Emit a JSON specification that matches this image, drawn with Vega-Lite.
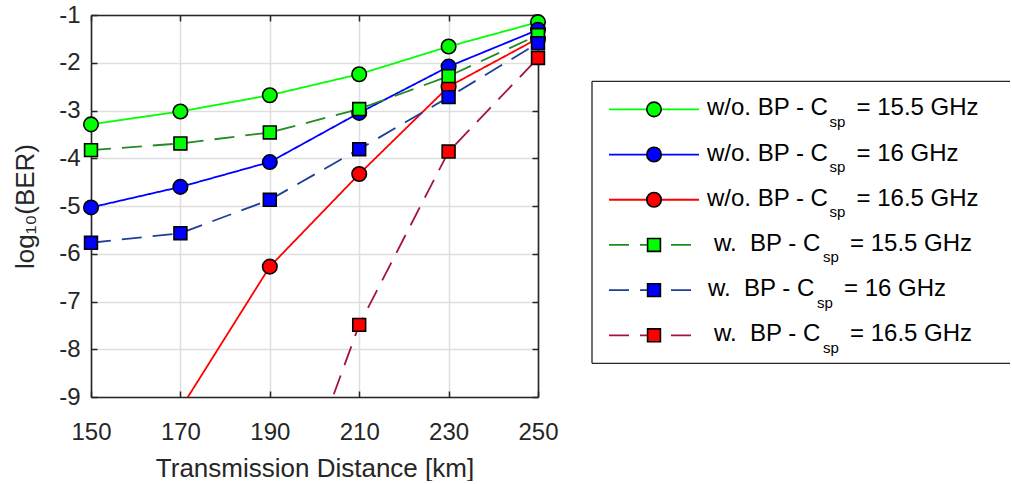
{
  "$schema": "https://vega.github.io/schema/vega-lite/v6.json",
  "background": "white",
  "padding": {"left": 12, "top": 3, "right": 0, "bottom": 0},
  "spacing": 32,
  "config": {
    "view": {"stroke": null},
    "font": "Liberation Sans",
    "axis": {
      "domainColor": "#262626",
      "domainWidth": 1.6,
      "tickColor": "#262626",
      "tickWidth": 1.5,
      "tickSize": -6,
      "labelColor": "#262626",
      "titleColor": "#262626",
      "labelFont": "Liberation Sans",
      "titleFont": "Liberation Sans",
      "labelFontSize": 24,
      "titleFontSize": 26,
      "titleFontWeight": "normal",
      "gridColor": "#dfdfdf",
      "gridWidth": 1.5,
      "labelOverlap": false
    }
  },
  "datasets": {
    "ber": [
      {"series": "w/o. BP - 15.5 GHz", "bp": "w/o", "csp": "15.5", "km": 150, "log10ber": -3.29},
      {"series": "w/o. BP - 15.5 GHz", "bp": "w/o", "csp": "15.5", "km": 170, "log10ber": -3.02},
      {"series": "w/o. BP - 15.5 GHz", "bp": "w/o", "csp": "15.5", "km": 190, "log10ber": -2.68},
      {"series": "w/o. BP - 15.5 GHz", "bp": "w/o", "csp": "15.5", "km": 210, "log10ber": -2.24},
      {"series": "w/o. BP - 15.5 GHz", "bp": "w/o", "csp": "15.5", "km": 230, "log10ber": -1.66},
      {"series": "w/o. BP - 15.5 GHz", "bp": "w/o", "csp": "15.5", "km": 250, "log10ber": -1.15},
      {"series": "w/o. BP - 16 GHz", "bp": "w/o", "csp": "16", "km": 150, "log10ber": -5.03},
      {"series": "w/o. BP - 16 GHz", "bp": "w/o", "csp": "16", "km": 170, "log10ber": -4.6},
      {"series": "w/o. BP - 16 GHz", "bp": "w/o", "csp": "16", "km": 190, "log10ber": -4.08},
      {"series": "w/o. BP - 16 GHz", "bp": "w/o", "csp": "16", "km": 210, "log10ber": -3.05},
      {"series": "w/o. BP - 16 GHz", "bp": "w/o", "csp": "16", "km": 230, "log10ber": -2.08},
      {"series": "w/o. BP - 16 GHz", "bp": "w/o", "csp": "16", "km": 250, "log10ber": -1.31},
      {"series": "w/o. BP - 16.5 GHz", "bp": "w/o", "csp": "16.5", "km": 170, "log10ber": -9.25},
      {"series": "w/o. BP - 16.5 GHz", "bp": "w/o", "csp": "16.5", "km": 190, "log10ber": -6.27},
      {"series": "w/o. BP - 16.5 GHz", "bp": "w/o", "csp": "16.5", "km": 210, "log10ber": -4.33},
      {"series": "w/o. BP - 16.5 GHz", "bp": "w/o", "csp": "16.5", "km": 230, "log10ber": -2.5},
      {"series": "w/o. BP - 16.5 GHz", "bp": "w/o", "csp": "16.5", "km": 250, "log10ber": -1.49},
      {"series": "w. BP - 15.5 GHz", "bp": "w", "csp": "15.5", "km": 150, "log10ber": -3.83},
      {"series": "w. BP - 15.5 GHz", "bp": "w", "csp": "15.5", "km": 170, "log10ber": -3.69},
      {"series": "w. BP - 15.5 GHz", "bp": "w", "csp": "15.5", "km": 190, "log10ber": -3.46},
      {"series": "w. BP - 15.5 GHz", "bp": "w", "csp": "15.5", "km": 210, "log10ber": -2.97},
      {"series": "w. BP - 15.5 GHz", "bp": "w", "csp": "15.5", "km": 230, "log10ber": -2.28},
      {"series": "w. BP - 15.5 GHz", "bp": "w", "csp": "15.5", "km": 250, "log10ber": -1.42},
      {"series": "w. BP - 16 GHz", "bp": "w", "csp": "16", "km": 150, "log10ber": -5.77},
      {"series": "w. BP - 16 GHz", "bp": "w", "csp": "16", "km": 170, "log10ber": -5.57},
      {"series": "w. BP - 16 GHz", "bp": "w", "csp": "16", "km": 190, "log10ber": -4.87},
      {"series": "w. BP - 16 GHz", "bp": "w", "csp": "16", "km": 210, "log10ber": -3.81},
      {"series": "w. BP - 16 GHz", "bp": "w", "csp": "16", "km": 230, "log10ber": -2.72},
      {"series": "w. BP - 16 GHz", "bp": "w", "csp": "16", "km": 250, "log10ber": -1.59},
      {"series": "w. BP - 16.5 GHz", "bp": "w", "csp": "16.5", "km": 190, "log10ber": -12.6},
      {"series": "w. BP - 16.5 GHz", "bp": "w", "csp": "16.5", "km": 210, "log10ber": -7.49},
      {"series": "w. BP - 16.5 GHz", "bp": "w", "csp": "16.5", "km": 230, "log10ber": -3.86},
      {"series": "w. BP - 16.5 GHz", "bp": "w", "csp": "16.5", "km": 250, "log10ber": -1.9}
    ],
    "legend": [
      {"order": 1, "series": "w/o. BP - 15.5 GHz", "bp": "w/o", "csp": "15.5", "lead": "w/o. BP - C", "sub": "sp", "tail": "= 15.5 GHz"},
      {"order": 2, "series": "w/o. BP - 16 GHz", "bp": "w/o", "csp": "16", "lead": "w/o. BP - C", "sub": "sp", "tail": "= 16 GHz"},
      {"order": 3, "series": "w/o. BP - 16.5 GHz", "bp": "w/o", "csp": "16.5", "lead": "w/o. BP - C", "sub": "sp", "tail": "= 16.5 GHz"},
      {"order": 4, "series": "w. BP - 15.5 GHz", "bp": "w", "csp": "15.5", "lead": "w.\u00a0 BP - C", "sub": "sp", "tail": "= 15.5 GHz"},
      {"order": 5, "series": "w. BP - 16 GHz", "bp": "w", "csp": "16", "lead": "w.\u00a0 BP - C", "sub": "sp", "tail": "= 16 GHz"},
      {"order": 6, "series": "w. BP - 16.5 GHz", "bp": "w", "csp": "16.5", "lead": "w.\u00a0 BP - C", "sub": "sp", "tail": "= 16.5 GHz"}
    ]
  },
  "resolve": {"scale": {"x": "independent", "y": "independent"}},
  "hconcat": [
    {
      "width": 447,
      "height": 382,
      "data": {"name": "ber"},
      "layer": [
        {
          "mark": {"type": "line", "clip": true, "strokeWidth": 1.8},
          "encoding": {
            "x": {
              "field": "km", "type": "quantitative",
              "scale": {"domain": [150, 250], "nice": false, "zero": false},
              "axis": {"orient": "bottom", "values": [150, 170, 190, 210, 230, 250], "grid": true, "labelFlush": false,
                       "labelPadding": 29, "title": "Transmission Distance [km]", "titlePadding": 11}
            },
            "y": {
              "field": "log10ber", "type": "quantitative",
              "scale": {"domain": [-9, -1], "nice": false, "zero": false},
              "axis": {"orient": "left", "values": [-1, -2, -3, -4, -5, -6, -7, -8, -9], "grid": true,
                       "labelExpr": "datum.value + ''", "labelPadding": 17,
                       "title": "log₁₀(BER)", "titlePadding": 20}
            },
            "color": {
              "field": "series", "type": "nominal", "legend": null,
              "scale": {
                "domain": ["w/o. BP - 15.5 GHz", "w/o. BP - 16 GHz", "w/o. BP - 16.5 GHz", "w. BP - 15.5 GHz", "w. BP - 16 GHz", "w. BP - 16.5 GHz"],
                "range": ["#00ff00", "#0000ff", "#ff0000", "#228b22", "#1f3d99", "#a2143c"]
              }
            },
            "strokeDash": {
              "field": "bp", "type": "nominal", "legend": null,
              "scale": {"domain": ["w/o", "w"], "range": [[1, 0], [20, 11]]}
            }
          }
        },
        {
          "transform": [{"filter": "datum.log10ber >= -9"}],
          "mark": {"type": "point", "filled": true, "stroke": "#000000", "strokeWidth": 1.6, "opacity": 1},
          "encoding": {
            "x": {
              "field": "km", "type": "quantitative",
              "axis": {"orient": "top", "values": [150, 170, 190, 210, 230, 250], "labels": false, "grid": false, "title": null}
            },
            "y": {
              "field": "log10ber", "type": "quantitative",
              "axis": {"orient": "right", "values": [-1, -2, -3, -4, -5, -6, -7, -8, -9], "labels": false, "grid": false, "title": null}
            },
            "fill": {
              "field": "csp", "type": "nominal", "legend": null,
              "scale": {"domain": ["15.5", "16", "16.5"], "range": ["#00ff00", "#0000ff", "#ff0000"]}
            },
            "shape": {
              "field": "bp", "type": "nominal", "legend": null,
              "scale": {"domain": ["w/o", "w"], "range": ["circle", "square"]}
            },
            "size": {
              "field": "bp", "type": "nominal", "legend": null,
              "scale": {"domain": ["w/o", "w"], "range": [210, 165]}
            }
          }
        }
      ],
      "resolve": {"axis": {"x": "independent", "y": "independent"}}
    },
    {
      "width": 418,
      "height": 380,
      "data": {"name": "legend"},
      "layer": [
        {
          "data": {"values": [{"edge": "top"}]},
          "mark": {"type": "rule", "color": "#262626", "strokeWidth": 1.3},
          "encoding": {
            "x": {"datum": 0, "type": "quantitative", "scale": {"domain": [0, 418], "nice": false, "zero": false}, "axis": null},
            "x2": {"datum": 418},
            "y": {"datum": 0.38, "type": "quantitative", "scale": {"domain": [-1.087, 7.32], "reverse": true, "nice": false, "zero": false}, "axis": null}
          }
        },
        {
          "data": {"values": [{"edge": "bottom"}]},
          "mark": {"type": "rule", "color": "#262626", "strokeWidth": 1.3},
          "encoding": {
            "x": {"datum": 0, "type": "quantitative"},
            "x2": {"datum": 418},
            "y": {"datum": 6.62, "type": "quantitative"}
          }
        },
        {
          "data": {"values": [{"edge": "left"}]},
          "mark": {"type": "rule", "color": "#262626", "strokeWidth": 1.3},
          "encoding": {
            "x": {"datum": 0, "type": "quantitative"},
            "y": {"datum": 0.38, "type": "quantitative"},
            "y2": {"datum": 6.62}
          }
        },
        {
          "mark": {"type": "rule", "strokeWidth": 1.8},
          "encoding": {
            "x": {"datum": 17, "type": "quantitative"},
            "x2": {"datum": 107},
            "y": {"field": "order", "type": "quantitative"},
            "color": {"field": "series", "type": "nominal", "legend": null},
            "strokeDash": {"field": "bp", "type": "nominal", "legend": null}
          }
        },
        {
          "mark": {"type": "point", "filled": true, "stroke": "#000000", "strokeWidth": 1.6, "opacity": 1},
          "encoding": {
            "x": {"datum": 62, "type": "quantitative"},
            "y": {"field": "order", "type": "quantitative"},
            "fill": {"field": "csp", "type": "nominal", "legend": null},
            "shape": {"field": "bp", "type": "nominal", "legend": null},
            "size": {"field": "bp", "type": "nominal", "legend": null}
          }
        },
        {
          "transform": [{"filter": "datum.bp == 'w/o'"}],
          "layer": [
            {
              "mark": {"type": "text", "align": "left", "baseline": "alphabetic", "dy": 6, "fontSize": 24, "color": "#000000", "font": "Liberation Sans"},
              "encoding": {
                "x": {"datum": 115, "type": "quantitative"},
                "y": {"field": "order", "type": "quantitative"},
                "text": {"field": "lead"}
              }
            },
            {
              "mark": {"type": "text", "align": "left", "baseline": "alphabetic", "dy": 17.5, "fontSize": 15, "color": "#000000", "font": "Liberation Sans"},
              "encoding": {
                "x": {"datum": 237.5, "type": "quantitative"},
                "y": {"field": "order", "type": "quantitative"},
                "text": {"field": "sub"}
              }
            },
            {
              "mark": {"type": "text", "align": "left", "baseline": "alphabetic", "dy": 6, "fontSize": 24, "color": "#000000", "font": "Liberation Sans"},
              "encoding": {
                "x": {"datum": 264.5, "type": "quantitative"},
                "y": {"field": "order", "type": "quantitative"},
                "text": {"field": "tail"}
              }
            }
          ]
        },
        {
          "transform": [{"filter": "datum.bp == 'w' && datum.csp != '16'"}],
          "layer": [
            {
              "mark": {"type": "text", "align": "left", "baseline": "alphabetic", "dy": 6, "fontSize": 24, "color": "#000000", "font": "Liberation Sans"},
              "encoding": {
                "x": {"datum": 122, "type": "quantitative"},
                "y": {"field": "order", "type": "quantitative"},
                "text": {"field": "lead"}
              }
            },
            {
              "mark": {"type": "text", "align": "left", "baseline": "alphabetic", "dy": 17.5, "fontSize": 15, "color": "#000000", "font": "Liberation Sans"},
              "encoding": {
                "x": {"datum": 231, "type": "quantitative"},
                "y": {"field": "order", "type": "quantitative"},
                "text": {"field": "sub"}
              }
            },
            {
              "mark": {"type": "text", "align": "left", "baseline": "alphabetic", "dy": 6, "fontSize": 24, "color": "#000000", "font": "Liberation Sans"},
              "encoding": {
                "x": {"datum": 258, "type": "quantitative"},
                "y": {"field": "order", "type": "quantitative"},
                "text": {"field": "tail"}
              }
            }
          ]
        },
        {
          "transform": [{"filter": "datum.bp == 'w' && datum.csp == '16'"}],
          "layer": [
            {
              "mark": {"type": "text", "align": "left", "baseline": "alphabetic", "dy": 6, "fontSize": 24, "color": "#000000", "font": "Liberation Sans"},
              "encoding": {
                "x": {"datum": 116, "type": "quantitative"},
                "y": {"field": "order", "type": "quantitative"},
                "text": {"field": "lead"}
              }
            },
            {
              "mark": {"type": "text", "align": "left", "baseline": "alphabetic", "dy": 17.5, "fontSize": 15, "color": "#000000", "font": "Liberation Sans"},
              "encoding": {
                "x": {"datum": 225, "type": "quantitative"},
                "y": {"field": "order", "type": "quantitative"},
                "text": {"field": "sub"}
              }
            },
            {
              "mark": {"type": "text", "align": "left", "baseline": "alphabetic", "dy": 6, "fontSize": 24, "color": "#000000", "font": "Liberation Sans"},
              "encoding": {
                "x": {"datum": 252, "type": "quantitative"},
                "y": {"field": "order", "type": "quantitative"},
                "text": {"field": "tail"}
              }
            }
          ]
        }
      ]
    }
  ]
}
